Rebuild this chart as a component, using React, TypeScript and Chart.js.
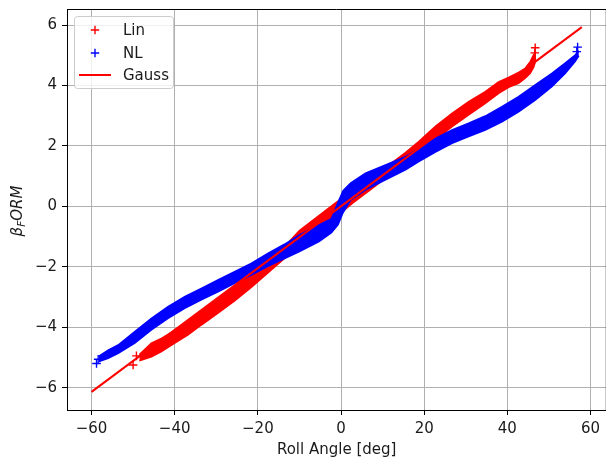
import React, { useEffect, useRef } from 'react';
import { Chart, registerables } from 'chart.js';

Chart.register(...registerables);

// ---- data ----
const xTicks = [-60, -40, -20, 0, 20, 40, 60];
const yTicks = [-6, -4, -2, 0, 2, 4, 6];

const xTitle = 'Roll Angle [deg]';
const legendLabels = ['Lin', 'NL', 'Gauss'];

// Lin (red +) dense band: upper and lower edge of the cloud
const linX = [-48.5, -45.6, -43.2, -40, -36.8, -33.6, -29.6, -25.6, -21.6, -17.6, -13.6, -10, -5.3, -1.3, 2.7, 7.5, 12.3, 15.5, 18.7, 22.7, 26.7, 30.7, 34.7, 37.9, 40.3, 42.7, 44.3, 45.5, 46.3, 46.9];
const linUpper = [-4.9, -4.52, -4.36, -4.1, -3.8, -3.48, -3.08, -2.65, -2.2, -1.78, -1.33, -0.8, -0.3, 0.12, 0.52, 0.99, 1.45, 1.78, 2.15, 2.65, 3.08, 3.47, 3.8, 4.12, 4.27, 4.43, 4.57, 4.79, 5.01, 5.12];
const linLower = [-5.1, -4.97, -4.8, -4.52, -4.25, -3.92, -3.53, -3.12, -2.68, -2.2, -1.72, -1.28, -0.8, -0.36, 0.1, 0.6, 1.1, 1.43, 1.78, 2.2, 2.64, 3.03, 3.41, 3.74, 3.94, 4.07, 4.24, 4.4, 4.6, 4.85];
const linEndX = [-50.0, -49.2, 46.7, 46.6];
const linEndY = [-5.24, -4.94, 5.25, 5.08];

// NL (blue +) dense band
const nlX = [-58.2, -56.0, -53.6, -49.6, -45.6, -41.6, -37.6, -33.6, -29.6, -25.6, -21.6, -17.6, -13.6, -10.0, -5.3, -2.3, -0.7, 0.5, 2.3, 5.9, 10.7, 15.5, 18.7, 22.7, 26.7, 30.7, 34.7, 38.7, 42.7, 46.7, 50.7, 53.9, 56.3, 57.2];
const nlUpper = [-4.95, -4.75, -4.58, -4.14, -3.7, -3.31, -2.98, -2.71, -2.43, -2.16, -1.88, -1.55, -1.25, -0.94, -0.61, -0.4, 0.15, 0.52, 0.77, 1.1, 1.37, 1.65, 1.9, 2.25, 2.53, 2.75, 2.99, 3.3, 3.63, 4.02, 4.4, 4.74, 5.01, 5.15];
const nlLower = [-5.13, -5.02, -4.86, -4.52, -4.08, -3.7, -3.37, -3.09, -2.82, -2.54, -2.27, -1.98, -1.72, -1.49, -1.16, -0.87, -0.6, -0.2, 0.21, 0.55, 0.88, 1.21, 1.48, 1.8, 2.09, 2.31, 2.53, 2.8, 3.13, 3.52, 3.96, 4.4, 4.79, 4.98];
const nlEndX = [-58.8, -58.4, 56.9, 56.7];
const nlEndY = [-5.19, -5.05, 5.27, 5.12];

// Gauss reference line
const gaussX = [-60, 57.9];
const gaussY = [-6.13, 5.93];

const X_MIN = -65.9;
const X_MAX = 63.8;
const Y_MIN = -6.73;
const Y_MAX = 6.53;

const RED = '#ff0000';
const BLUE = '#0000ff';
const FONT = 'DejaVu Sans';
const TEXT = '#1a1a1a';
const FS = 15;

const pts = (xs: number[], ys: number[]) => xs.map((x, i) => ({ x, y: ys[i] }));
const fmt = (v: number) => (v < 0 ? '\u2212' + Math.abs(v) : String(v));

const decorPlugin = {
  id: 'decor',
  afterDraw(chart: any) {
    const ctx: CanvasRenderingContext2D = chart.ctx;
    const a = chart.chartArea;
    ctx.save();
    // top & right spines
    ctx.strokeStyle = '#000';
    ctx.lineWidth = 1;
    ctx.beginPath();
    ctx.moveTo(a.left, Math.round(a.top) + 0.5);
    ctx.lineTo(a.right, Math.round(a.top) + 0.5);
    ctx.lineTo(a.right, a.bottom);
    ctx.stroke();

    // legend box
    ctx.beginPath();
    (ctx as any).roundRect(74.5, 16.5, 99, 72, 3);
    ctx.fillStyle = 'rgba(255,255,255,0.8)';
    ctx.fill();
    ctx.strokeStyle = '#cccccc';
    ctx.lineWidth = 1;
    ctx.stroke();

    const cross = (cx: number, cy: number, r: number, color: string) => {
      ctx.beginPath();
      ctx.strokeStyle = color;
      ctx.lineWidth = 1.4;
      ctx.moveTo(cx - r, cy);
      ctx.lineTo(cx + r, cy);
      ctx.moveTo(cx, cy - r);
      ctx.lineTo(cx, cy + r);
      ctx.stroke();
    };
    const rows = [30, 53, 75];
    cross(95, rows[0], 4.2, RED);
    cross(95, rows[1], 4.2, BLUE);
    ctx.beginPath();
    ctx.strokeStyle = RED;
    ctx.lineWidth = 2;
    ctx.moveTo(79, rows[2]);
    ctx.lineTo(111, rows[2]);
    ctx.stroke();

    ctx.fillStyle = TEXT;
    ctx.font = `${FS}px "${FONT}"`;
    ctx.textBaseline = 'middle';
    ctx.textAlign = 'left';
    legendLabels.forEach((t, i) => ctx.fillText(t, 123, rows[i] + 1));

    // y axis title: beta_F ORM (mathtext style)
    ctx.translate(22, 211);
    ctx.rotate(-Math.PI / 2);
    ctx.textBaseline = 'alphabetic';
    const big = `italic 15px "${FONT}"`;
    const small = `italic 10.5px "${FONT}"`;
    ctx.font = big;
    const wB = ctx.measureText('\u03b2').width;
    const wO = ctx.measureText('ORM').width;
    ctx.font = small;
    const wF = ctx.measureText('F').width;
    let u = -(wB + wF + wO) / 2;
    ctx.font = big;
    ctx.fillText('\u03b2', u, 0);
    u += wB;
    ctx.font = small;
    ctx.fillText('F', u, 3);
    u += wF;
    ctx.font = big;
    ctx.fillText('ORM', u, 0);
    ctx.restore();
  },
};

const noPad = (s: any) => {
  s.paddingTop = 0;
  s.paddingBottom = 0;
  s.paddingLeft = 0;
  s.paddingRight = 0;
};

export default function App() {
  const ref = useRef<HTMLCanvasElement | null>(null);

  useEffect(() => {
    if (!ref.current) return;
    const band = (xs: number[], ys: number[], color: string, order: number, fill: any) => ({
      type: 'line',
      data: pts(xs, ys),
      borderColor: color,
      backgroundColor: color,
      borderWidth: 1.5,
      pointRadius: 0,
      tension: 0,
      fill,
      order,
    });
    const ends = (xs: number[], ys: number[], color: string, order: number) => ({
      type: 'line',
      data: pts(xs, ys),
      showLine: false,
      pointStyle: 'cross',
      pointRadius: 4.3,
      pointBorderWidth: 1.4,
      borderColor: color,
      backgroundColor: color,
      order,
    });

    const chart = new Chart(ref.current, {
      type: 'line',
      data: {
        datasets: [
          { label: 'Lin', ...band(linX, linUpper, RED, 3, false) },
          { label: 'Lin lower', ...band(linX, linLower, RED, 3, '-1') },
          { label: 'Lin ends', ...ends(linEndX, linEndY, RED, 3) },
          { label: 'NL', ...band(nlX, nlUpper, BLUE, 2, false) },
          { label: 'NL lower', ...band(nlX, nlLower, BLUE, 2, '-1') },
          { label: 'NL ends', ...ends(nlEndX, nlEndY, BLUE, 2) },
          {
            label: 'Gauss',
            type: 'line',
            data: pts(gaussX, gaussY),
            borderColor: RED,
            borderWidth: 2,
            pointRadius: 0,
            fill: false,
            order: 0,
          },
        ] as any,
      },
      options: {
        animation: false,
        responsive: false,
        devicePixelRatio: 1,
        events: [],
        layout: { padding: { top: 9, right: 4, left: 0, bottom: 0 } },
        plugins: {
          legend: { display: false },
          tooltip: { enabled: false },
        },
        scales: {
          x: {
            type: 'linear',
            min: X_MIN,
            max: X_MAX,
            afterBuildTicks: (s: any) => {
              s.ticks = xTicks.map((v) => ({ value: v }));
            },
            afterFit: (s: any) => {
              s.height = 51;
              noPad(s);
            },
            grid: { color: '#b0b0b0', lineWidth: 1, tickColor: '#000', tickLength: 5, drawTicks: true },
            border: { color: '#000', width: 1 },
            ticks: {
              color: TEXT,
              font: { family: FONT, size: FS },
              padding: 5,
              maxRotation: 0,
              autoSkip: false,
              callback: (v: any) => fmt(Number(v)),
            },
            title: {
              display: true,
              text: xTitle,
              color: TEXT,
              font: { family: FONT, size: FS },
              padding: { top: 0, bottom: 2 },
            },
          },
          y: {
            type: 'linear',
            min: Y_MIN,
            max: Y_MAX,
            afterBuildTicks: (s: any) => {
              s.ticks = yTicks.map((v) => ({ value: v }));
            },
            afterFit: (s: any) => {
              s.width = 67;
              noPad(s);
            },
            grid: { color: '#b0b0b0', lineWidth: 1, tickColor: '#000', tickLength: 5, drawTicks: true },
            border: { color: '#000', width: 1 },
            ticks: {
              color: TEXT,
              font: { family: FONT, size: FS },
              padding: 5,
              autoSkip: false,
              callback: (v: any) => fmt(Number(v)),
            },
            title: { display: false },
          },
        },
      } as any,
      plugins: [decorPlugin],
    });
    return () => chart.destroy();
  }, []);

  return (
    <div style={{ position: 'absolute', left: 0, top: 0, width: 606, height: 461, overflow: 'hidden', background: '#fff' }}>
      <canvas ref={ref} width={612} height={461} style={{ width: 612, height: 461, display: 'block' }} />
    </div>
  );
}
